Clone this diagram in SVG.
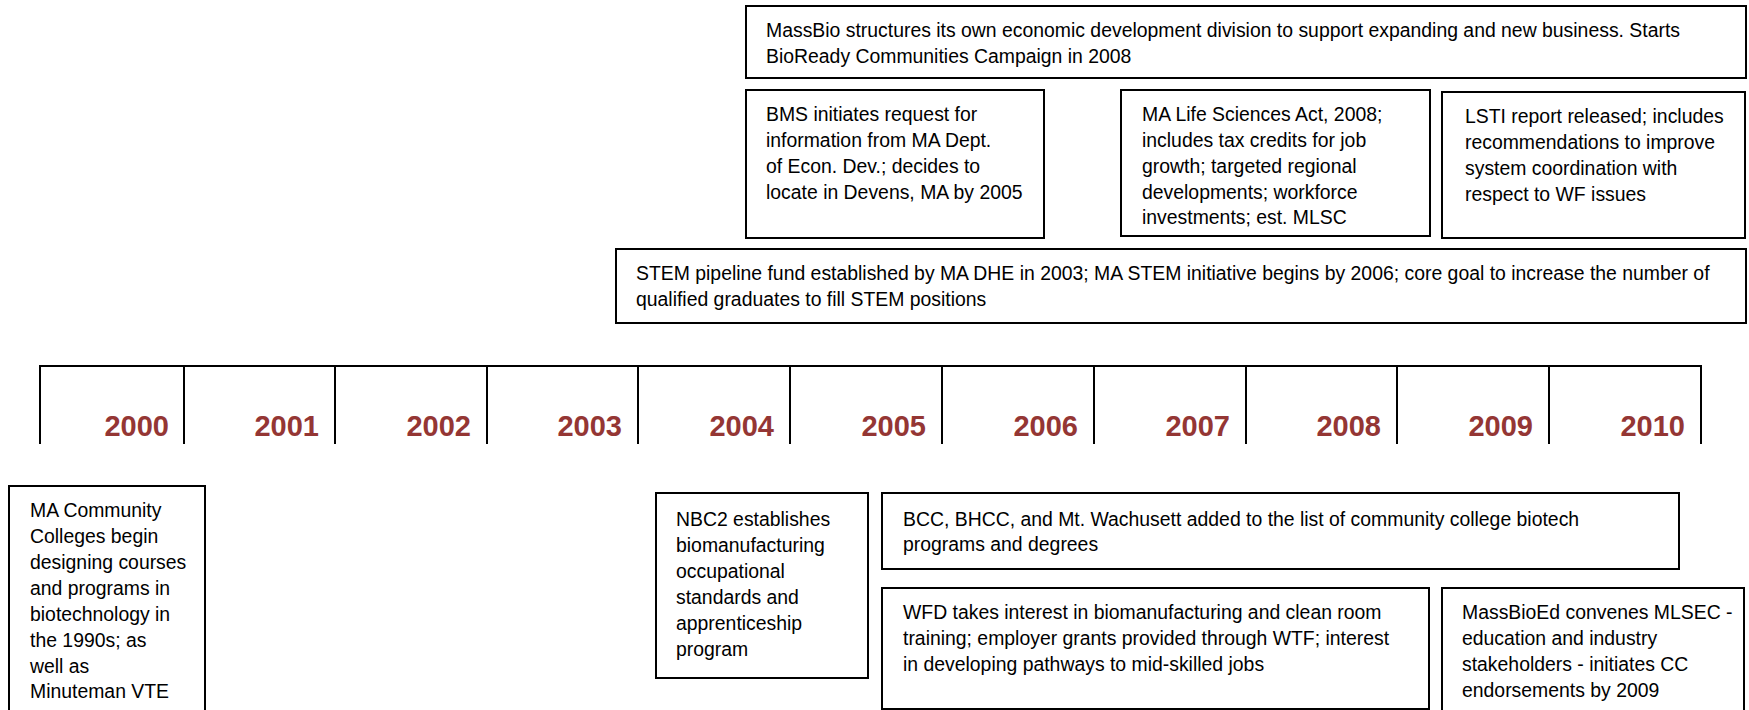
<svg xmlns="http://www.w3.org/2000/svg" width="1749" height="710" viewBox="0 0 1749 710">
  <style>
    .box { fill: #ffffff; stroke: #000000; stroke-width: 2; }
    .txt { font-family: "Liberation Sans", Arial, sans-serif; font-size: 19.4px; fill: #000000; }
    .year { font-family: "Liberation Sans", Arial, sans-serif; font-size: 29px; font-weight: bold; fill: #943634; text-anchor: end; }
    .axis { stroke: #000000; stroke-width: 2; fill: none; }
  </style>
  <rect width="1749" height="710" fill="#ffffff"/>

  <!-- upper events -->
  <g id="massbio-econ">
    <rect class="box" x="746" y="6" width="1000" height="72"/>
    <text class="txt" x="766" y="37">MassBio structures its own economic development division to support expanding and new business. Starts</text>
    <text class="txt" x="766" y="63">BioReady Communities Campaign in 2008</text>
  </g>

  <g id="bms-devens">
    <rect class="box" x="746" y="90" width="298" height="148"/>
    <text class="txt" x="766" y="121">BMS initiates request for</text>
    <text class="txt" x="766" y="147">information from MA Dept.</text>
    <text class="txt" x="766" y="173">of Econ. Dev.; decides to</text>
    <text class="txt" x="766" y="199">locate in Devens, MA by 2005</text>
  </g>

  <g id="life-sciences-act">
    <rect class="box" x="1121" y="90" width="309" height="146"/>
    <text class="txt" x="1142" y="121">MA Life Sciences Act, 2008;</text>
    <text class="txt" x="1142" y="147">includes tax credits for job</text>
    <text class="txt" x="1142" y="173">growth; targeted regional</text>
    <text class="txt" x="1142" y="199">developments; workforce</text>
    <text class="txt" x="1142" y="224">investments; est. MLSC</text>
  </g>

  <g id="lsti-report">
    <rect class="box" x="1442" y="92" width="303" height="146"/>
    <text class="txt" x="1465" y="123">LSTI report released; includes</text>
    <text class="txt" x="1465" y="149">recommendations to improve</text>
    <text class="txt" x="1465" y="175">system coordination with</text>
    <text class="txt" x="1465" y="201">respect to WF issues</text>
  </g>

  <g id="stem-fund">
    <rect class="box" x="616" y="249" width="1130" height="74"/>
    <text class="txt" x="636" y="280">STEM pipeline fund established by MA DHE in 2003; MA STEM initiative begins by 2006; core goal to increase the number of</text>
    <text class="txt" x="636" y="306">qualified graduates to fill STEM positions</text>
  </g>

  <!-- year scale -->
  <g id="timeline">
    <path class="axis" d="M40 366 H1701 M40 365 V444 M184 366 V444 M335 366 V444 M487 366 V444 M638 366 V444 M790 366 V444 M942 366 V444 M1094 366 V444 M1246 366 V444 M1397 366 V444 M1549 366 V444 M1701 365 V444"/>
    <text class="year" x="169" y="436">2000</text>
    <text class="year" x="319" y="436">2001</text>
    <text class="year" x="471" y="436">2002</text>
    <text class="year" x="622" y="436">2003</text>
    <text class="year" x="774" y="436">2004</text>
    <text class="year" x="926" y="436">2005</text>
    <text class="year" x="1078" y="436">2006</text>
    <text class="year" x="1230" y="436">2007</text>
    <text class="year" x="1381" y="436">2008</text>
    <text class="year" x="1533" y="436">2009</text>
    <text class="year" x="1685" y="436">2010</text>
  </g>

  <!-- lower events -->
  <g id="cc-courses">
    <rect class="box" x="9" y="486" width="196" height="240"/>
    <text class="txt" x="30" y="517">MA Community</text>
    <text class="txt" x="30" y="543">Colleges begin</text>
    <text class="txt" x="30" y="569">designing courses</text>
    <text class="txt" x="30" y="595">and programs in</text>
    <text class="txt" x="30" y="621">biotechnology in</text>
    <text class="txt" x="30" y="647">the 1990s; as</text>
    <text class="txt" x="30" y="673">well as</text>
    <text class="txt" x="30" y="698">Minuteman VTE</text>
  </g>

  <g id="nbc2-standards">
    <rect class="box" x="656" y="493" width="212" height="185"/>
    <text class="txt" x="676" y="526">NBC2 establishes</text>
    <text class="txt" x="676" y="552">biomanufacturing</text>
    <text class="txt" x="676" y="578">occupational</text>
    <text class="txt" x="676" y="604">standards and</text>
    <text class="txt" x="676" y="630">apprenticeship</text>
    <text class="txt" x="676" y="656">program</text>
  </g>

  <g id="cc-programs">
    <rect class="box" x="882" y="493" width="797" height="76"/>
    <text class="txt" x="903" y="526">BCC, BHCC, and Mt. Wachusett added to the list of community college biotech</text>
    <text class="txt" x="903" y="551">programs and degrees</text>
  </g>

  <g id="wfd-training">
    <rect class="box" x="882" y="588" width="547" height="121"/>
    <text class="txt" x="903" y="619">WFD takes interest in biomanufacturing and clean room</text>
    <text class="txt" x="903" y="645">training; employer grants provided through WTF; interest</text>
    <text class="txt" x="903" y="671">in developing pathways to mid-skilled jobs</text>
  </g>

  <g id="massbioed-mlsec">
    <rect class="box" x="1442" y="588" width="302" height="140"/>
    <text class="txt" x="1462" y="619">MassBioEd convenes MLSEC -</text>
    <text class="txt" x="1462" y="645">education and industry</text>
    <text class="txt" x="1462" y="671">stakeholders - initiates CC</text>
    <text class="txt" x="1462" y="697">endorsements by 2009</text>
  </g>

  <g id="connectors"/>
</svg>
